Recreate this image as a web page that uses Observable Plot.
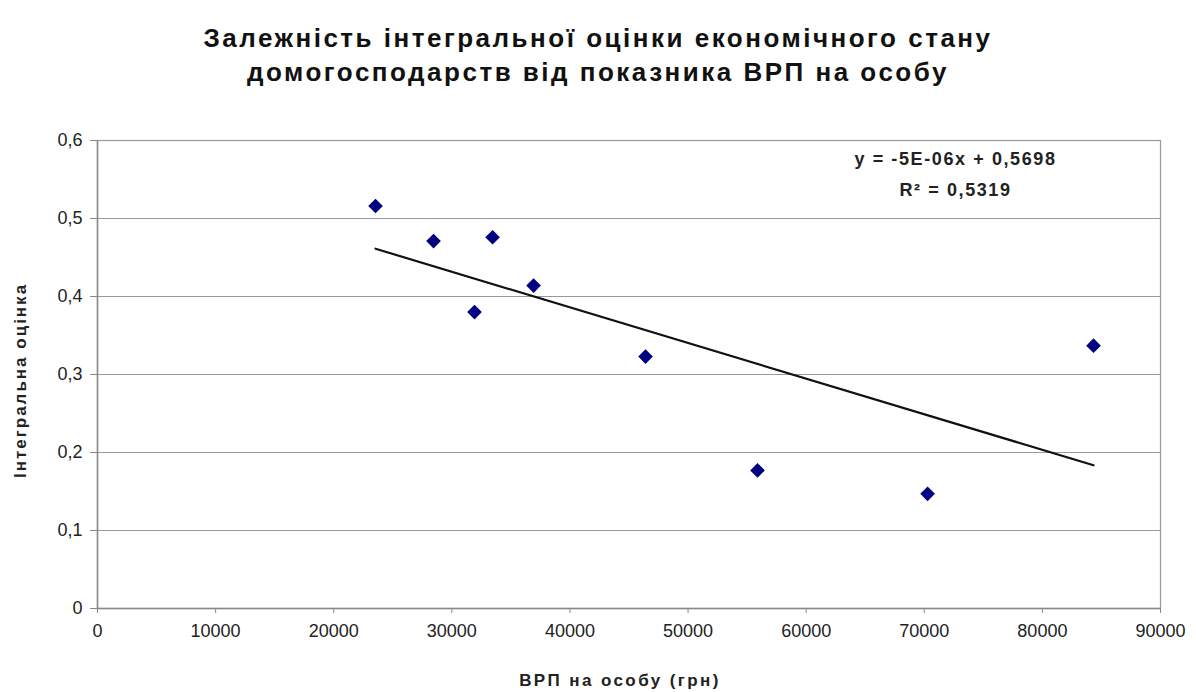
<!DOCTYPE html>
<html>
<head>
<meta charset="utf-8">
<script src="https://cdn.jsdelivr.net/npm/d3@7"></script>
<script src="https://cdn.jsdelivr.net/npm/@observablehq/plot@0.6"></script>
<style>
  html, body { margin: 0; padding: 0; background: #fff; }
  body { width: 1196px; height: 692px; overflow: hidden; font-family: "Liberation Sans", Arial, sans-serif; }
  #title { height: 110px; box-sizing: border-box; padding-top: 21px; text-align: center; font-weight: bold; font-size: 26px; letter-spacing: 2.5px; line-height: 34px; color: #111; }
</style>
</head>
<body>
<div id="title">Залежність інтегральної оцінки економічного стану<br>домогосподарств від показника ВРП на особу</div>
<div id="chart"></div>
<script>
const grp = [23540, 28450, 31920, 33450, 36920, 46400, 55880, 70280, 84330];
const score = [0.516, 0.471, 0.380, 0.476, 0.414, 0.323, 0.177, 0.147, 0.337];
const xTicks = [0, 10000, 20000, 30000, 40000, 50000, 60000, 70000, 80000, 90000];
const yTicks = [0, 0.1, 0.2, 0.3, 0.4, 0.5, 0.6];
const equationText = ["y = -5E-06x + 0,5698\nR² = 0,5319"];

const data = grp.map((x, i) => ({x, y: score[i]}));
const fmtY = d => d === 0 ? "0" : d.toFixed(1).replace(".", ",");

const chart = Plot.plot({
  width: 1196,
  height: 582,
  marginLeft: 97,
  marginRight: 36,
  marginTop: 30,
  marginBottom: 84,
  style: {fontFamily: "'Liberation Sans', Arial, sans-serif", fontSize: "18px", color: "#222", background: "#fff"},
  x: {domain: [0, 90000], ticks: xTicks, tickFormat: d => String(d)},
  y: {domain: [0, 0.6], ticks: yTicks, tickFormat: fmtY},
  marks: [
    Plot.gridY(yTicks, {stroke: "#999", strokeOpacity: 1, strokeWidth: 1.2}),
    Plot.frame({stroke: "#999", strokeWidth: 1.2}),
    Plot.ruleX([0], {stroke: "#888", strokeWidth: 1.5}),
    Plot.ruleY([0], {stroke: "#888", strokeWidth: 1.5}),
    Plot.axisX(xTicks, {tickSize: 5, tickPadding: 11, tickFormat: d => String(d), stroke: "#888",
      label: "ВРП на особу (грн)", labelAnchor: "center", labelArrow: "none", labelOffset: 77}),
    Plot.axisY(yTicks, {tickSize: 7, tickPadding: 8, tickFormat: fmtY, stroke: "#888",
      label: "Інтегральна оцінка", labelAnchor: "center", labelArrow: "none", labelOffset: 84}),
    Plot.linearRegressionY(data, {x: "x", y: "y", ci: 0, stroke: "#111", strokeWidth: 2.2}),
    Plot.dot(data, {x: "x", y: "y", symbol: "diamond2", r: 6.6, fill: "#000080", stroke: "none"}),
    Plot.text(equationText, {text: d => d, frameAnchor: "top-right", textAnchor: "middle", dx: -205, dy: 30,
      lineAnchor: "middle", lineHeight: 1.75, fontWeight: "bold", fontSize: 18, fill: "#222"})
  ]
});
document.getElementById("chart").appendChild(chart);

chart.querySelectorAll("[aria-label='x-axis label'] text").forEach(t => {
  t.setAttribute("font-weight", "bold");
  t.setAttribute("font-size", "17");
  t.setAttribute("letter-spacing", "2.4");
  t.setAttribute("dx", "-9");
});
chart.querySelectorAll("[aria-label='y-axis label'] text").forEach(t => {
  t.setAttribute("font-weight", "bold");
  t.setAttribute("font-size", "17");
  t.setAttribute("letter-spacing", "2");
  t.setAttribute("dx", "-6");
});
chart.querySelectorAll("[aria-label='text'] text").forEach(t => {
  t.setAttribute("letter-spacing", "1.6");
});
</script>
</body>
</html>
